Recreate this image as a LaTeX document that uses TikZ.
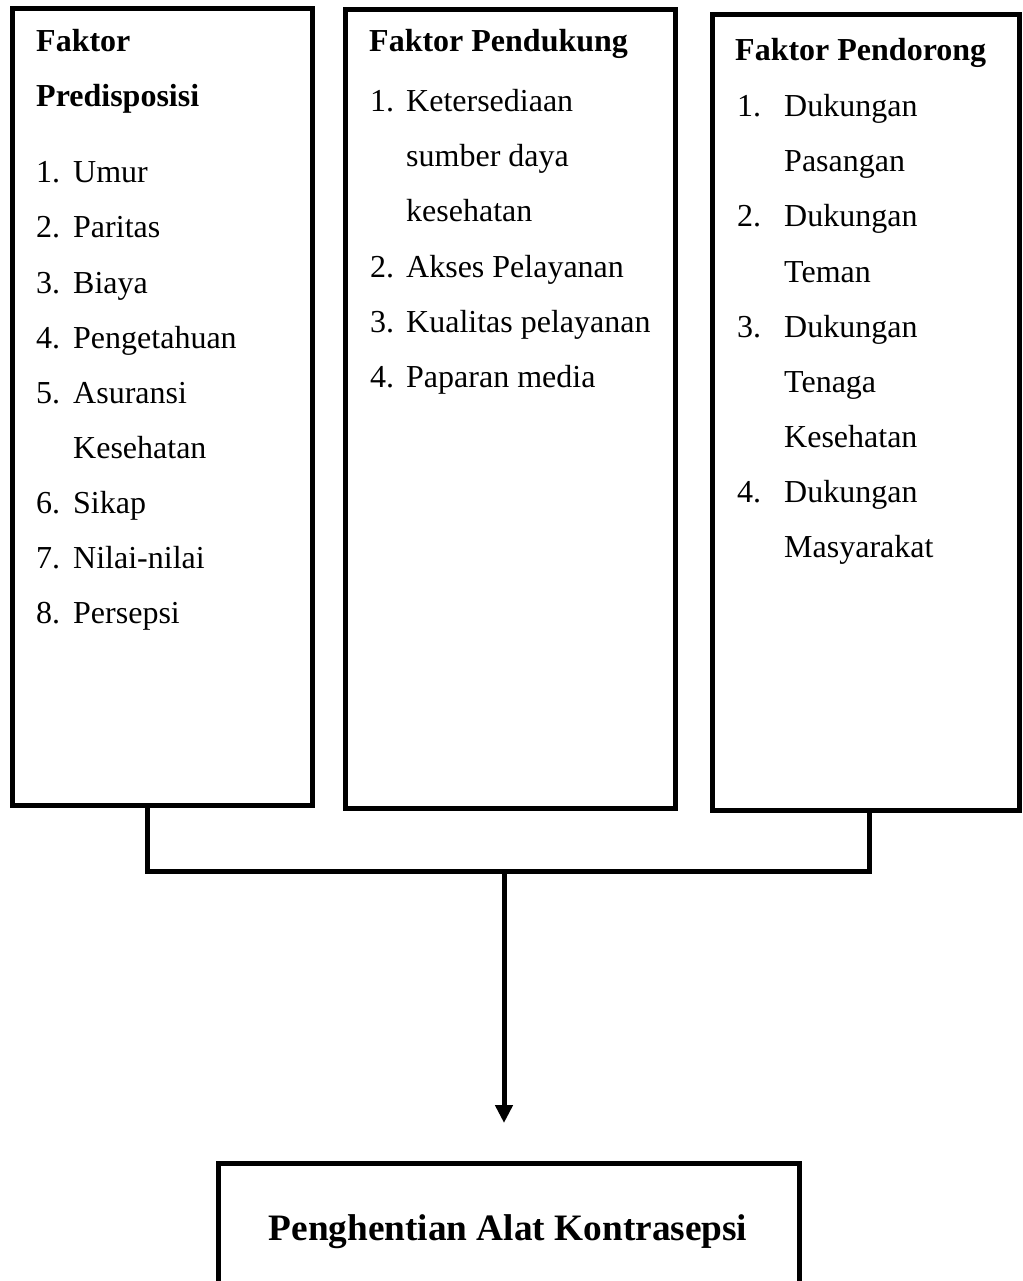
\documentclass[tikz,border=0pt]{standalone}
\usepackage{fontspec}
\setmainfont{Liberation Serif}
\usetikzlibrary{arrows.meta}
\tikzset{
  box/.style={draw=black, line width=5pt, inner sep=0pt, outer sep=0pt, anchor=north west},
  txt/.style={anchor=base west, inner sep=0pt, font=\fontsize{32}{38}\selectfont},
  hdr/.style={anchor=base west, inner sep=0pt, font=\fontsize{32}{38}\selectfont\bfseries},
  ttl/.style={anchor=base, inner sep=0pt, font=\fontsize{37.3}{44}\selectfont\bfseries},
  conn/.style={draw=black, line width=5pt},
  arr/.style={draw=black, line width=5pt, -{Triangle[width=17pt,length=18pt]}}
}
\begin{document}
\begin{tikzpicture}[x=1pt,y=-1pt]
\useasboundingbox (0,0) rectangle (1022,1281);
% boxes
\node[box, minimum width=300pt, minimum height=796.5pt] (b1) at (12.5,8.5) {};
\node[box, minimum width=330pt, minimum height=798.5pt] (b2) at (345.5,9.5) {};
\node[box, minimum width=307pt, minimum height=795.5pt] (b3) at (712.5,14.5) {};
\node[box, minimum width=581pt, minimum height=140pt] (out) at (218,1163) {};
% box 1 text
\node[hdr] (h1a) at (36,52) {Faktor};
\node[hdr] (h1b) at (36,107) {Predisposisi};
\node[txt] (n11) at (36,183) {1.};  \node[txt] (t11) at (73,183) {Umur};
\node[txt] (n12) at (36,238) {2.};  \node[txt] (t12) at (73,238) {Paritas};
\node[txt] (n13) at (36,293) {3.};  \node[txt] (t13) at (73,293) {Biaya};
\node[txt] (n14) at (36,348) {4.};  \node[txt] (t14) at (73,348) {Pengetahuan};
\node[txt] (n15) at (36,403) {5.};  \node[txt] (t15) at (73,403) {Asuransi};
\node[txt] (t15b) at (73,458) {Kesehatan};
\node[txt] (n16) at (36,513) {6.};  \node[txt] (t16) at (73,513) {Sikap};
\node[txt] (n17) at (36,568) {7.};  \node[txt] (t17) at (73,568) {Nilai-nilai};
\node[txt] (n18) at (36,623) {8.};  \node[txt] (t18) at (73,623) {Persepsi};
% box 2 text
\node[hdr] (h2) at (369,52) {Faktor Pendukung};
\node[txt] (n21) at (370,112) {1.};  \node[txt] (t21) at (406,112) {Ketersediaan};
\node[txt] (t21b) at (406,167) {sumber daya};
\node[txt] (t21c) at (406,222) {kesehatan};
\node[txt] (n22) at (370,277) {2.};  \node[txt] (t22) at (406,277) {Akses Pelayanan};
\node[txt] (n23) at (370,332) {3.};  \node[txt] (t23) at (406,332) {Kualitas pelayanan};
\node[txt] (n24) at (370,387) {4.};  \node[txt] (t24) at (406,387) {Paparan media};
% box 3 text
\node[hdr] (h3) at (735,61) {Faktor Pendorong};
\node[txt] (n31) at (737,117) {1.};  \node[txt] (t31) at (784,117) {Dukungan};
\node[txt] (t31b) at (784,172) {Pasangan};
\node[txt] (n32) at (737,227) {2.};  \node[txt] (t32) at (784,227) {Dukungan};
\node[txt] (t32b) at (784,282) {Teman};
\node[txt] (n33) at (737,337) {3.};  \node[txt] (t33) at (784,337) {Dukungan};
\node[txt] (t33b) at (784,392) {Tenaga};
\node[txt] (t33c) at (784,447) {Kesehatan};
\node[txt] (n34) at (737,502) {4.};  \node[txt] (t34) at (784,502) {Dukungan};
\node[txt] (t34b) at (784,557) {Masyarakat};
% output title
\node[ttl] (ot) at (508,1240) {Penghentian Alat Kontrasepsi};
% connectors
\coordinate (j1) at (147,871);
\coordinate (j2) at (869,871);
\coordinate (jm) at (504,871);
\coordinate (tip) at (504,1123);
\draw[conn] ([xshift=134.5pt]b1.south west) -- (j1) -- (j2) -- ([xshift=156.5pt]b3.south west);
\draw[arr] (jm) -- (tip);
\end{tikzpicture}
\end{document}
